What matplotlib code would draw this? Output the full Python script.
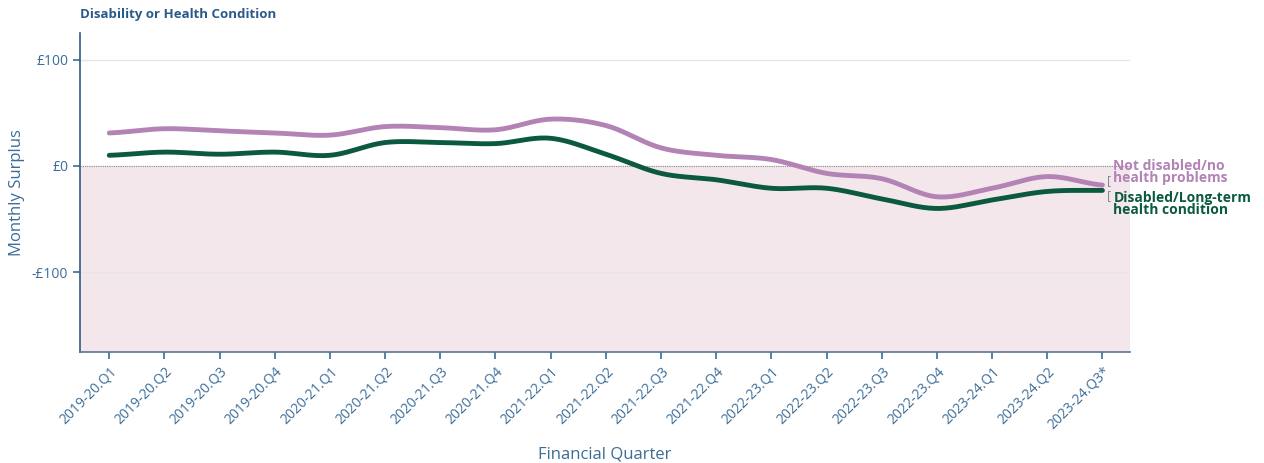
import numpy as np
import matplotlib
matplotlib.use("Agg")
import matplotlib.pyplot as plt

plt.rcParams['font.family'] = ['Open Sans', 'DejaVu Sans']

quarters = ["2019-20.Q1", "2019-20.Q2", "2019-20.Q3", "2019-20.Q4",
            "2020-21.Q1", "2020-21.Q2", "2020-21.Q3", "2020-21.Q4",
            "2021-22.Q1", "2021-22.Q2", "2021-22.Q3", "2021-22.Q4",
            "2022-23.Q1", "2022-23.Q2", "2022-23.Q3", "2022-23.Q4",
            "2023-24.Q1", "2023-24.Q2", "2023-24.Q3*"]
not_disabled = [31, 35, 33, 31, 29, 37, 36, 34, 44, 38, 17, 10, 6, -7, -12, -29, -21, -10, -18]
disabled = [10, 13, 11, 13, 10, 22, 22, 21, 26, 11, -7, -13, -21, -21, -31, -40, -32, -24, -23]

purple = "#b383b6"
green = "#0b5a40"
blue = "#3b6d98"


def smooth(y, n=20):
    # catmull-rom curve through the points, only for drawing
    y = np.asarray(y, dtype=float)
    p = np.concatenate([[y[0]], y, [y[-1]]])
    xs, ys = [], []
    for i in range(len(y) - 1):
        t = np.linspace(0, 1, n, endpoint=False)
        p0, p1, p2, p3 = p[i], p[i + 1], p[i + 2], p[i + 3]
        seg = 0.5 * ((2 * p1) + (-p0 + p2) * t + (2 * p0 - 5 * p1 + 4 * p2 - p3) * t ** 2
                     + (-p0 + 3 * p1 - 3 * p2 + p3) * t ** 3)
        xs.append(i + t)
        ys.append(seg)
    xs.append([len(y) - 1])
    ys.append([y[-1]])
    return np.concatenate(xs), np.concatenate(ys)


fig = plt.figure(figsize=(12.64, 4.63), dpi=100)
ax = fig.add_axes([0.0633, 0.2397, 0.8307, 0.689])

x = np.arange(len(quarters))
ax.set_xlim(-0.53, 18.5)
ax.set_ylim(-175, 125)

ax.axhspan(-175, 0, color="#f4e7eb", zorder=0)
for v in [100, -100]:
    ax.axhline(v, color="#e6e6e6", lw=1, zorder=1)
ax.axhline(0, color="#888888", lw=0.8, ls=(0, (1, 1)), zorder=2)

sx, sy = smooth(not_disabled)
ax.plot(sx, sy, color=purple, lw=3.5, zorder=3, solid_capstyle="round")
sx, sy = smooth(disabled)
ax.plot(sx, sy, color=green, lw=3.5, zorder=4, solid_capstyle="round")

ax.text(18.2, not_disabled[-1] + 12, "Not disabled/no\nhealth problems", color=purple,
        fontsize=10, fontweight="bold", va="center", ha="left", linespacing=0.8, clip_on=False)
ax.text(18.2, disabled[-1] - 13, "Disabled/Long-term\nhealth condition", color=green,
        fontsize=10, fontweight="bold", va="center", ha="left", linespacing=0.8, clip_on=False)
ax.text(18.08, not_disabled[-1] + 4, "[", color="#7a8a99", fontsize=9, va="center", ha="left", clip_on=False)
ax.text(18.08, disabled[-1] - 5, "[", color="#7a8a99", fontsize=9, va="center", ha="left", clip_on=False)

ax.set_xticks(x)
ax.set_xticklabels(quarters, rotation=45, ha="right", rotation_mode="anchor", color=blue, fontsize=10)
ax.set_yticks([100, 0, -100])
ax.set_yticklabels(["£100", "£0", "-£100"], color=blue, fontsize=10)
ax.tick_params(axis="both", color=blue, length=5, width=1.2)

for side in ["top", "right"]:
    ax.spines[side].set_visible(False)
ax.spines["left"].set_color("#2f5b84")
ax.spines["bottom"].set_color("#5a7590")
ax.spines["left"].set_linewidth(1.2)
ax.spines["bottom"].set_linewidth(1.2)

ax.set_ylabel("Monthly Surplus", color=blue, fontsize=12, labelpad=5)
ax.set_xlabel("Financial Quarter", color=blue, fontsize=12, labelpad=10)
fig.text(0.0633, 0.955, "Disability or Health Condition", color="#2a5a8a",
         fontsize=9.5, fontweight="bold", ha="left", va="bottom")

fig.savefig("out.png", dpi=100)
